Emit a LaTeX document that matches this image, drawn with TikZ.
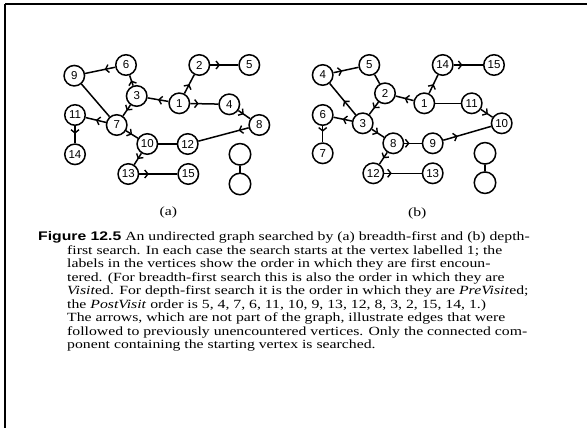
\documentclass[tikz,border=0pt]{standalone}
\usepackage{fontspec}
\setmainfont[FakeStretch=1.26]{Liberation Serif}
\setsansfont{Liberation Sans}
\newfontfamily\figfont[FakeStretch=1.26]{Liberation Sans}
\usetikzlibrary{arrows.meta,decorations.markings}

\tikzset{
  vtx/.style={circle,draw,line width=1.5pt,minimum size=20.5pt,inner sep=0pt,
    font=\sffamily\fontsize{11.5}{12}\selectfont},
  blank/.style={vtx,minimum size=21.5pt},
  edge/.style={line width=1.5pt},
  tree/.style={edge,postaction={decorate},
    decoration={markings,mark=at position #1 with
      {\arrow{Straight Barb[length=3.2pt,width=8pt,line width=1.4pt]}}}},
  tree/.default=0.5,
  capline/.style={anchor=base west,inner sep=0pt,
    font=\fontsize{12.5}{13.5}\selectfont},
  sublabel/.style={font=\fontsize{12.5}{13}\selectfont}
}

\begin{document}
\begin{tikzpicture}[x=1pt,y=-1pt]
\useasboundingbox (0,0) rectangle (587,428);

% frame edges along the top and left
\draw[line width=2.6pt] (5,4) -- (587,4);
\draw[line width=2.6pt] (5,4) -- (5,428);

% ---------- (a) breadth-first ----------
\node[vtx] (a9)  at (74.3,75.7) {9};
\node[vtx] (a6)  at (126,65) {6};
\node[vtx] (a2)  at (199.3,65) {2};
\node[vtx] (a5)  at (249.3,65) {5};
\node[vtx] (a3)  at (136.7,96) {3};
\node[vtx] (a1)  at (179.3,103.3) {1};
\node[vtx] (a4)  at (229.3,104.3) {4};
\node[vtx] (a11) at (75,115) {11};
\node[vtx] (a7)  at (116.7,125) {7};
\node[vtx] (a8)  at (259.3,125) {8};
\node[vtx] (a10) at (147.3,144) {10};
\node[vtx] (a12) at (187.7,144) {12};
\node[vtx] (a14) at (75,154.3) {14};
\node[vtx] (a13) at (128.3,174) {13};
\node[vtx] (a15) at (188.3,174) {15};
\node[blank] (ae1) at (240,154.3) {};
\node[blank] (ae2) at (240,184) {};
\node[sublabel] (alab) at (168.3,212.7) {(a)};

\draw[tree=0.5]  (a1) -- (a2);
\draw[tree=0.35] (a2) -- (a5);
\draw[tree=0.5]  (a1) -- (a3);
\draw[tree=0.3]  (a1) -- (a4);
\draw[tree=0.45] (a4) -- (a8);
\draw[tree=0.5]  (a3) -- (a6);
\draw[tree=0.5]  (a3) -- (a7);
\draw[tree=0.35] (a6) -- (a9);
\draw[tree=0.5]  (a7) -- (a11);
\draw[tree=0.5]  (a7) -- (a10);
\draw[tree=0.2]  (a8) -- (a12);
\draw[tree=0.45] (a11) -- (a14);
\draw[tree=0.5]  (a10) -- (a13);
\draw[tree=0.25] (a13) -- (a15);
\draw[edge] (a9) -- (a7);
\draw[edge] (a10) -- (a12);
\draw[edge] (ae1) -- (ae2);

% ---------- (b) depth-first ----------
\node[vtx] (b4)  at (322.7,75) {4};
\node[vtx] (b5)  at (369.3,65) {5};
\node[vtx] (b14) at (442.7,65) {14};
\node[vtx] (b15) at (494,65) {15};
\node[vtx] (b2)  at (385,93.3) {2};
\node[vtx] (b1)  at (424.3,103.3) {1};
\node[vtx] (b11) at (471.7,103.3) {11};
\node[vtx] (b6)  at (322.7,115) {6};
\node[vtx] (b3)  at (362.7,123.3) {3};
\node[vtx] (b10) at (501.7,123.3) {10};
\node[vtx] (b7)  at (322.7,153.3) {7};
\node[vtx] (b8)  at (393.3,143.3) {8};
\node[vtx] (b9)  at (432.7,143.3) {9};
\node[vtx] (b12) at (373.3,173.3) {12};
\node[vtx] (b13) at (432.7,173.3) {13};
\node[blank] (be1) at (485,153.3) {};
\node[blank] (be2) at (485,182.7) {};
\node[sublabel] (blab) at (417.3,213.3) {(b)};

\draw[tree=0.5]  (b1) -- (b14);
\draw[tree=0.3]  (b14) -- (b15);
\draw[tree=0.5]  (b1) -- (b2);
\draw[tree=0.5]  (b2) -- (b3);
\draw[tree=0.45] (b3) -- (b4);
\draw[tree=0.35] (b4) -- (b5);
\draw[tree=0.5]  (b3) -- (b6);
\draw[tree=0.35] (b6) -- (b7);
\draw[tree=0.5]  (b3) -- (b8);
\draw[tree=0.3]  (b8) -- (b9);
\draw[tree=0.3]  (b9) -- (b10);
\draw[tree=0.6]  (b11) -- (b10);
\draw[tree=0.5]  (b8) -- (b12);
\draw[tree=0.2]  (b12) -- (b13);
\draw[edge] (b5) -- (b2);
\draw[edge] (b1) -- (b11);
\draw[edge] (be1) -- (be2);

% ---------- caption ----------
\node[capline] (cap1) at (38,240.7) {{\figfont\bfseries Figure 12.5}\ An undirected graph searched by (a) breadth-first and (b) depth-};
\node[capline] (cap2) at (67,254.2) {first search. In each case the search starts at the vertex labelled 1; the};
\node[capline] (cap3) at (67,267.7) {labels in the vertices show the order in which they are first encoun-};
\node[capline] (cap4) at (67,281.2) {tered. (For breadth-first search this is also the order in which they are};
\node[capline] (cap5) at (67,294.7) {\textit{Visit}ed. For depth-first search it is the order in which they are \textit{PreVisit}ed;};
\node[capline] (cap6) at (67,308.2) {the \textit{PostVisit} order is 5, 4, 7, 6, 11, 10, 9, 13, 12, 8, 3, 2, 15, 14, 1.)};
\node[capline] (cap7) at (67,321.7) {The arrows, which are not part of the graph, illustrate edges that were};
\node[capline] (cap8) at (67,335.2) {followed to previously unencountered vertices. Only the connected com-};
\node[capline] (cap9) at (67,348.7) {ponent containing the starting vertex is searched.};
\end{tikzpicture}
\end{document}
